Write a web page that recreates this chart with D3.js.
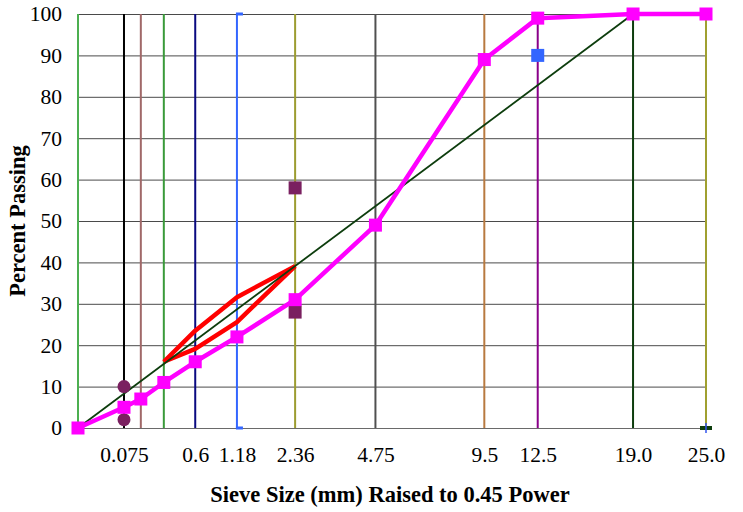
<!DOCTYPE html>
<html>
<head>
<meta charset="utf-8">
<script src="https://cdn.jsdelivr.net/npm/d3@7"></script>
<style>
  body { margin: 0; background: #fff; }
  text { font-family: "Liberation Serif", "Times New Roman", serif; }
</style>
</head>
<body>
<svg id="chart"></svg>
<script>
// sieve sizes (mm) and their vertical reference lines
const sieves = [0, 0.075, 0.15, 0.3, 0.6, 1.18, 2.36, 4.75, 9.5, 12.5, 19, 25];
const sieveColors = ["#4caf50", "#000000", "#a06868", "#3a9a3a", "#0a0a80", "#3366ff",
                     "#9c9c30", "#505050", "#b87a40", "#8a008a", "#0d3d0d", "#a0a030"];

// labelled ticks on the x axis
const tickSieves = [0.075, 0.6, 1.18, 2.36, 4.75, 9.5, 12.5, 19, 25];
const tickLabels = ["0.075", "0.6", "1.18", "2.36", "4.75", "9.5", "12.5", "19.0", "25.0"];

// gradation of the blend
const blendSieves = [0, 0.075, 0.15, 0.3, 0.6, 1.18, 2.36, 4.75, 9.5, 12.5, 19, 25];
const blendPassing = [0, 5, 7, 11, 16, 22, 31, 49, 89, 99, 100, 100];

// maximum density line
const maxDensitySieves = [0, 19];
const maxDensityPassing = [0, 100];

// restricted zone (upper and lower boundaries)
const zoneSieves = [0.3, 0.6, 1.18, 2.36];
const zoneUpper = [16, 23.5, 31.6, 39.1];
const zoneLower = [16, 19.1, 25.6, 39.1];

// control points
const ctrlCircleSieves = [0.075, 0.075];
const ctrlCirclePassing = [2, 10];
const ctrlSquareSieves = [2.36, 2.36];
const ctrlSquarePassing = [28, 58];
const ctrlBlueSieves = [12.5];
const ctrlBluePassing = [90];

const yTicks = [0, 10, 20, 30, 40, 50, 60, 70, 80, 90, 100];

drawChart = () => {
  const width = 743, height = 512;
  const margin = {top: 14, right: 37, bottom: 84, left: 78};

  const svg = d3.select('#chart')
      .attr('width', width)
      .attr('height', height);

  const x = d3.scalePow().exponent(0.45)
      .domain([0, 25])
      .range([margin.left, width - margin.right]);

  const y = d3.scaleLinear()
      .domain([0, 100])
      .range([height - margin.bottom, margin.top]);

  // horizontal gridlines
  svg.append('g')
      .attr('transform', `translate(${margin.left},0)`)
      .call(d3.axisLeft(y).tickValues(yTicks).tickSize(-(x(25) - x(0))).tickFormat(''))
      .call(g => g.select('.domain').remove())
      .call(g => g.selectAll('.tick line').attr('stroke', '#4a4a4a').attr('stroke-width', 1));

  // y tick labels
  svg.append('g')
      .attr('transform', `translate(${margin.left},0)`)
      .call(d3.axisLeft(y).tickValues(yTicks).tickSize(0).tickPadding(16))
      .call(g => g.select('.domain').remove())
      .call(g => g.selectAll('.tick text')
          .attr('font-size', 21.5)
          .attr('font-family', '"Liberation Serif", serif')
          .attr('fill', '#000'));

  // x axis labels
  svg.append('g')
      .attr('transform', `translate(0,${y(0)})`)
      .call(d3.axisBottom(x).tickValues(tickSieves).tickSize(0).tickPadding(19)
          .tickFormat((d, i) => tickLabels[i]))
      .call(g => g.select('.domain').attr('stroke', '#6a6a6a'))
      .call(g => g.selectAll('.tick text')
          .attr('font-size', 21.5)
          .attr('font-family', '"Liberation Serif", serif')
          .attr('fill', '#000'));

  // vertical sieve lines
  svg.append('g')
    .selectAll('line')
    .data(sieves)
    .join('line')
      .attr('x1', d => x(d))
      .attr('x2', d => x(d))
      .attr('y1', y(100))
      .attr('y2', y(0))
      .attr('stroke', (d, i) => sieveColors[i])
      .attr('stroke-width', 2);

  // small dash markers on the 1.18 and 25 lines
  svg.append('g')
    .selectAll('rect')
    .data([100, 0])
    .join('rect')
      .attr('x', x(1.18) - 1)
      .attr('y', d => y(d) - 1.5)
      .attr('width', 7)
      .attr('height', 3)
      .attr('fill', '#3366ff');
  svg.append('rect')
      .attr('x', x(25) - 6)
      .attr('y', y(0) - 2)
      .attr('width', 12)
      .attr('height', 4)
      .attr('fill', '#0d3d0d');
  svg.append('line')
      .attr('x1', x(25)).attr('x2', x(25))
      .attr('y1', y(0) - 5).attr('y2', y(0) + 5)
      .attr('stroke', '#3355ee')
      .attr('stroke-width', 1.5);

  // restricted zone
  const zoneLine = d3.line().x(d => x(d[0])).y(d => y(d[1]));
  [zoneUpper, zoneLower].forEach(b => {
    svg.append('path')
        .attr('d', zoneLine(d3.zip(zoneSieves, b)))
        .attr('fill', 'none')
        .attr('stroke', '#ff0000')
        .attr('stroke-width', 4.5)
        .attr('stroke-linejoin', 'round');
  });

  // maximum density line
  svg.append('path')
      .attr('d', zoneLine(d3.zip(maxDensitySieves, maxDensityPassing)))
      .attr('fill', 'none')
      .attr('stroke', '#0d3d0d')
      .attr('stroke-width', 1.8);

  // control points
  svg.append('g')
    .selectAll('circle')
    .data(d3.zip(ctrlCircleSieves, ctrlCirclePassing))
    .join('circle')
      .attr('cx', d => x(d[0]))
      .attr('cy', d => y(d[1]))
      .attr('r', 6.5)
      .attr('fill', '#7a2060');

  svg.append('g')
    .selectAll('rect')
    .data(d3.zip(ctrlSquareSieves, ctrlSquarePassing))
    .join('rect')
      .attr('x', d => x(d[0]) - 6.5)
      .attr('y', d => y(d[1]) - 6.5)
      .attr('width', 13)
      .attr('height', 13)
      .attr('fill', '#7a2060');

  svg.append('g')
    .selectAll('rect')
    .data(d3.zip(ctrlBlueSieves, ctrlBluePassing))
    .join('rect')
      .attr('x', d => x(d[0]) - 6.5)
      .attr('y', d => y(d[1]) - 6.5)
      .attr('width', 13)
      .attr('height', 13)
      .attr('fill', '#3366ff');

  // blend gradation
  const blend = d3.zip(blendSieves, blendPassing);
  svg.append('path')
      .attr('d', zoneLine(blend))
      .attr('fill', 'none')
      .attr('stroke', '#ff00ff')
      .attr('stroke-width', 4.5)
      .attr('stroke-linejoin', 'round');

  svg.append('g')
    .selectAll('rect')
    .data(blend)
    .join('rect')
      .attr('x', d => x(d[0]) - 6.5)
      .attr('y', d => y(d[1]) - 6.5)
      .attr('width', 13)
      .attr('height', 13)
      .attr('fill', '#ff00ff');

  // axis titles
  svg.append('text')
      .attr('x', 390)
      .attr('y', 502)
      .attr('text-anchor', 'middle')
      .attr('font-size', 22.5)
      .attr('font-weight', 'bold')
      .text('Sieve Size (mm) Raised to 0.45 Power');

  svg.append('text')
      .attr('transform', `translate(25,${y(50)}) rotate(-90)`)
      .attr('text-anchor', 'middle')
      .attr('font-size', 22.5)
      .attr('font-weight', 'bold')
      .text('Percent Passing');
};

window.onload = drawChart();
</script>
</body>
</html>
